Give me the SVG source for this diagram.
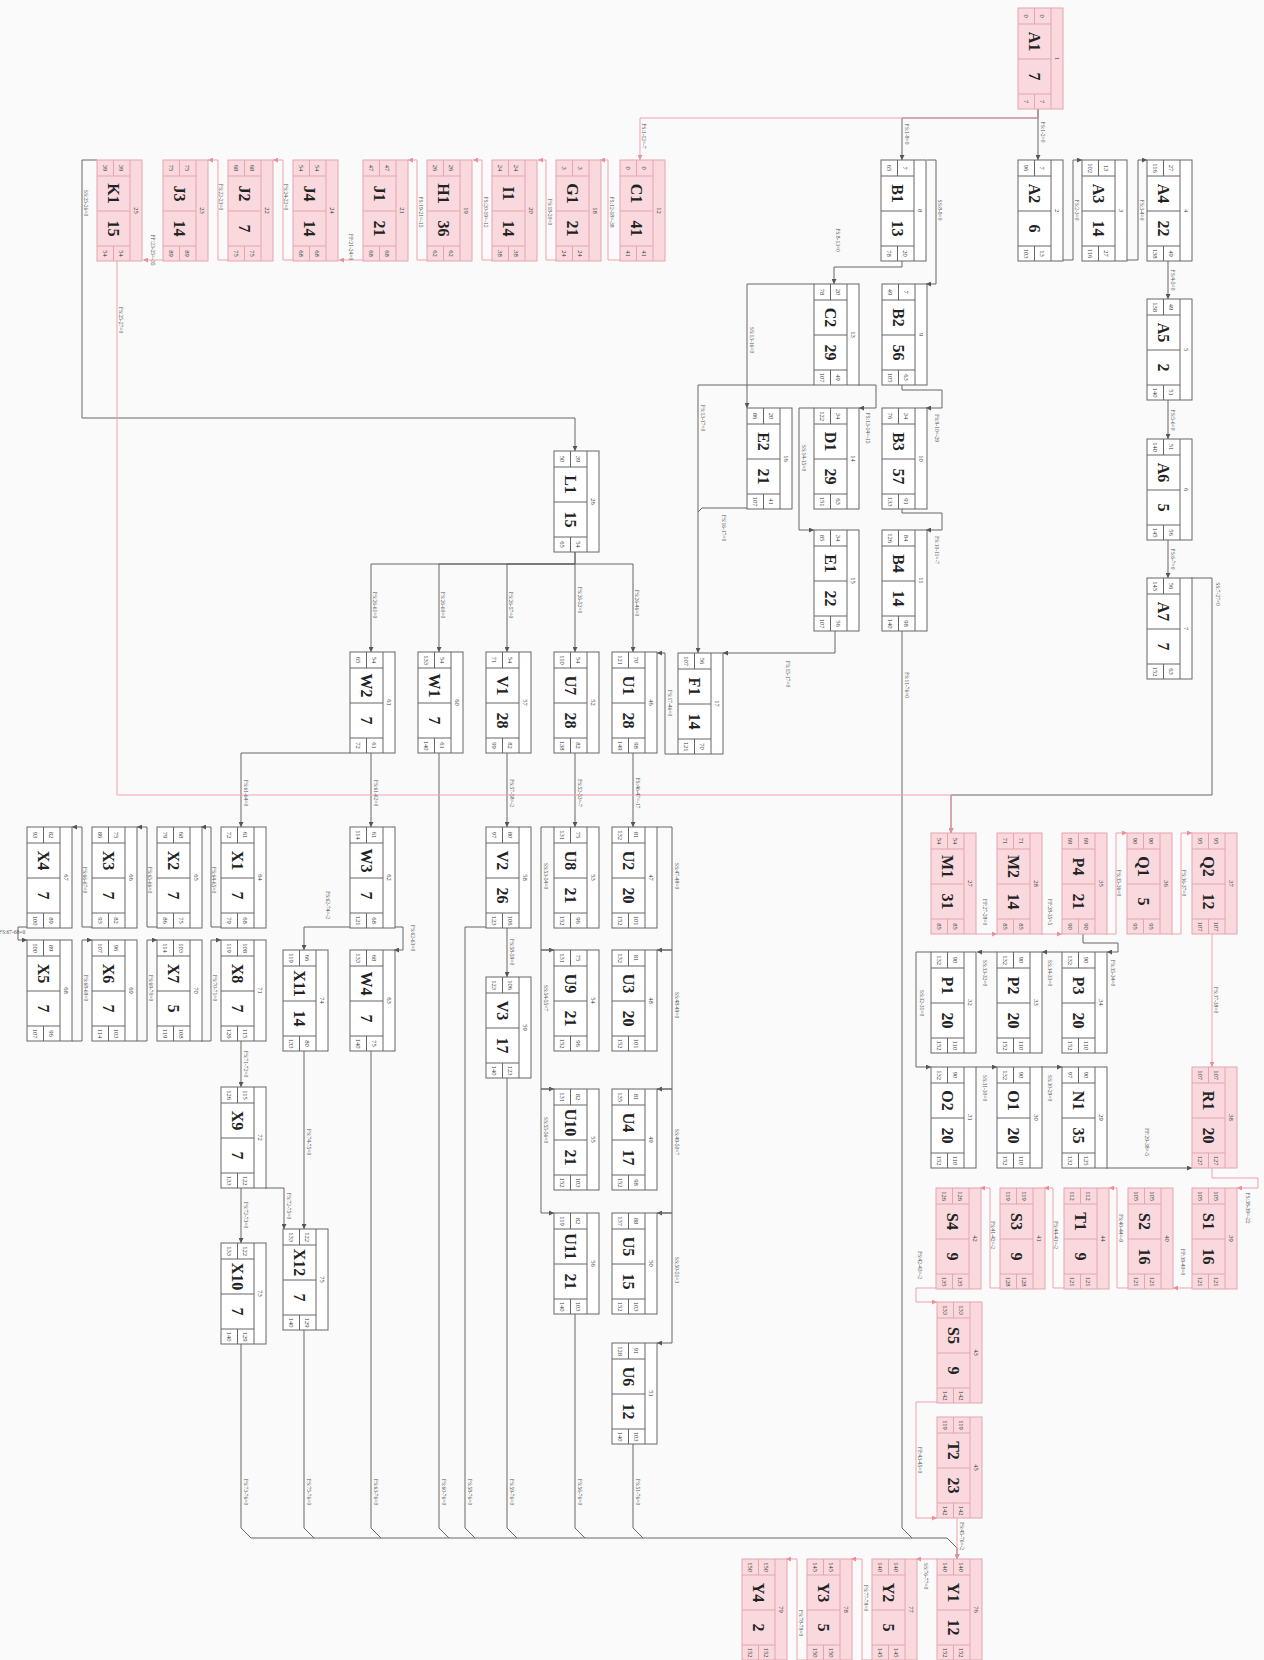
<svg xmlns="http://www.w3.org/2000/svg" xmlns:xlink="http://www.w3.org/1999/xlink" width="1264" height="1660" viewBox="0 0 1264 1660">
<style>
.b{font-family:"Liberation Serif",serif;font-weight:bold;font-size:16px;text-anchor:middle;dominant-baseline:central;fill:#222}
.s{font-family:"Liberation Serif",serif;font-size:6.5px;text-anchor:middle;dominant-baseline:central;fill:#333}
.i{font-family:"Liberation Serif",serif;font-size:6.5px;text-anchor:middle;dominant-baseline:central;fill:#333}
.l{font-family:"Liberation Serif",serif;font-size:5.5px;text-anchor:middle;dominant-baseline:central;fill:#555}
.cg path{fill:none;stroke:#666;stroke-width:1}
.cp path{fill:none;stroke:#f0a3ad;stroke-width:1}
</style>
<defs>
<marker id="ag" viewBox="0 0 6 6" refX="6" refY="3" markerWidth="5" markerHeight="5" orient="auto" markerUnits="userSpaceOnUse"><path d="M0,0L6,3L0,6z" fill="#555"/></marker>
<marker id="ap" viewBox="0 0 6 6" refX="6" refY="3" markerWidth="5" markerHeight="5" orient="auto" markerUnits="userSpaceOnUse"><path d="M0,0L6,3L0,6z" fill="#ec8f9b"/></marker>
<g id="fw"><rect x="0" y="0" width="101" height="45" fill="#ffffff" stroke="#666" stroke-width="1"/><path d="M0,12H101M16,12V45M51,12V45M86,12V45M0,28.5H16M86,28.5H101" fill="none" stroke="#666" stroke-width="1"/></g>
<g id="fp"><rect x="0" y="0" width="101" height="45" fill="#f9d9de" stroke="#e6a4ae" stroke-width="1"/><path d="M0,12H101M16,12V45M51,12V45M86,12V45M0,28.5H16M86,28.5H101" fill="none" stroke="#e6a4ae" stroke-width="1"/></g>
</defs>
<rect x="0" y="0" width="1264" height="1660" fill="#fafafa"/>

<g id="connectors">
<g class="cg">
<path d="M1038,109V160" marker-end="url(#ag)"/>
<path d="M1038,109V118H902V160" marker-end="url(#ag)"/>
<path d="M1063,260H1073V160H1082" marker-end="url(#ag)"/>
<path d="M1127,260H1138V160H1147" marker-end="url(#ag)"/>
<path d="M1168,261V299" marker-end="url(#ag)"/>
<path d="M1168,400V439" marker-end="url(#ag)"/>
<path d="M1168,540V578" marker-end="url(#ag)"/>
<path d="M1191,578H1212V795H951V833" marker-end="url(#ag)"/>
<path d="M927,160H936V284H926" marker-end="url(#ag)"/>
<path d="M902,261V267H834V284" marker-end="url(#ag)"/>
<path d="M902,385V390H942V408H926" marker-end="url(#ag)"/>
<path d="M902,509V513H942V530H926" marker-end="url(#ag)"/>
<path d="M902,631V1528L912,1538"/>
<path d="M858,385H876V408H859" marker-end="url(#ag)"/>
<path d="M814,284H747V408" marker-end="url(#ag)"/>
<path d="M814,385H698V653" marker-end="url(#ag)"/>
<path d="M747,508H702L698,512"/>
<path d="M814,408H799V530H814" marker-end="url(#ag)"/>
<path d="M835,631V653H723" marker-end="url(#ag)"/>
<path d="M678,754H665V653H657" marker-end="url(#ag)"/>
<path d="M97,160H82V418H575V451" marker-end="url(#ag)"/>
<path d="M575,552V564H371V652" marker-end="url(#ag)"/>
<path d="M575,564H439V652" marker-end="url(#ag)"/>
<path d="M575,564H507V652" marker-end="url(#ag)"/>
<path d="M575,552V652" marker-end="url(#ag)"/>
<path d="M575,564H633V652" marker-end="url(#ag)"/>
<path d="M371,753V827" marker-end="url(#ag)"/>
<path d="M350,753H241V827" marker-end="url(#ag)"/>
<path d="M439,753V1528L449,1538"/>
<path d="M507,753V827" marker-end="url(#ag)"/>
<path d="M575,753V827" marker-end="url(#ag)"/>
<path d="M633,753V827" marker-end="url(#ag)"/>
<path d="M394,927H403V950H394" marker-end="url(#ag)"/>
<path d="M350,927H304V950" marker-end="url(#ag)"/>
<path d="M221,927H211V827H201" marker-end="url(#ag)"/>
<path d="M157,927H147V827H137" marker-end="url(#ag)"/>
<path d="M92,927H82V827H72" marker-end="url(#ag)"/>
<path d="M27,927H18V940H27" marker-end="url(#ag)"/>
<path d="M72,1041H82V940H92" marker-end="url(#ag)"/>
<path d="M137,1041H147V940H157" marker-end="url(#ag)"/>
<path d="M201,1041H211V940H221" marker-end="url(#ag)"/>
<path d="M241,1041V1087" marker-end="url(#ag)"/>
<path d="M241,1188V1243" marker-end="url(#ag)"/>
<path d="M265,1188H284V1229" marker-end="url(#ag)"/>
<path d="M304,1051V1229" marker-end="url(#ag)"/>
<path d="M241,1344V1528L251,1538"/>
<path d="M304,1330V1528L314,1538"/>
<path d="M371,1051V1528L381,1538"/>
<path d="M507,927V977" marker-end="url(#ag)"/>
<path d="M486,927H465V1528L475,1538"/>
<path d="M507,1078V1528L517,1538"/>
<path d="M554,827H541V950H554" marker-end="url(#ag)"/>
<path d="M554,950H541V1089H554" marker-end="url(#ag)"/>
<path d="M554,1089H541V1213H554" marker-end="url(#ag)"/>
<path d="M575,1314V1528L585,1538"/>
<path d="M657,827H672V950H657" marker-end="url(#ag)"/>
<path d="M657,950H672V1089H657" marker-end="url(#ag)"/>
<path d="M657,1089H672V1213H657" marker-end="url(#ag)"/>
<path d="M657,1213H672V1343H657" marker-end="url(#ag)"/>
<path d="M633,1444V1528L643,1538"/>
<path d="M251,1538H947L957,1548V1559" marker-end="url(#ag)"/>
<path d="M1083,934V943H1118V952H1107" marker-end="url(#ag)"/>
<path d="M1062,952H1042" marker-end="url(#ag)"/>
<path d="M997,952H977" marker-end="url(#ag)"/>
<path d="M931,952H916V1067H931" marker-end="url(#ag)"/>
<path d="M976,1067H997" marker-end="url(#ag)"/>
<path d="M1041,1067H1062" marker-end="url(#ag)"/>
<path d="M1106,1168H1192" marker-end="url(#ag)"/>
</g>
<g class="cp">
<path d="M1038,109V118H640V160" marker-end="url(#ap)"/>
<path d="M620,260H608V160H600" marker-end="url(#ap)"/>
<path d="M556,260H546V160H538" marker-end="url(#ap)"/>
<path d="M492,260H482V160H473" marker-end="url(#ap)"/>
<path d="M427,260H417V160H408" marker-end="url(#ap)"/>
<path d="M363,260H339" marker-end="url(#ap)"/>
<path d="M293,260H283V160H273" marker-end="url(#ap)"/>
<path d="M228,260H218V160H208" marker-end="url(#ap)"/>
<path d="M163,260H143" marker-end="url(#ap)"/>
<path d="M117,260V795H951V833" marker-end="url(#ap)"/>
<path d="M976,934H997" marker-end="url(#ap)"/>
<path d="M1041,934H1062" marker-end="url(#ap)"/>
<path d="M1106,934H1116V833H1127" marker-end="url(#ap)"/>
<path d="M1171,934H1181V833H1192" marker-end="url(#ap)"/>
<path d="M1212,934V1067" marker-end="url(#ap)"/>
<path d="M1212,1168V1178H1258V1188H1237" marker-end="url(#ap)"/>
<path d="M1192,1288H1173" marker-end="url(#ap)"/>
<path d="M1128,1288H1117V1188H1109" marker-end="url(#ap)"/>
<path d="M1064,1288H1053V1188H1044" marker-end="url(#ap)"/>
<path d="M1000,1288H990V1188H980" marker-end="url(#ap)"/>
<path d="M936,1288H916V1302H937" marker-end="url(#ap)"/>
<path d="M937,1402H916V1518H937" marker-end="url(#ap)"/>
<path d="M957,1518V1559" marker-end="url(#ap)"/>
<path d="M937,1559H916" marker-end="url(#ap)"/>
<path d="M872,1660H862V1559H851" marker-end="url(#ap)"/>
<path d="M807,1660H797V1559H786" marker-end="url(#ap)"/>
</g>
<g id="labels">
<text class="l" transform="translate(1043,132) rotate(90)">FS:1-2=0</text>
<text class="l" transform="translate(907,134) rotate(90)">FS:1-8=0</text>
<text class="l" transform="translate(644,136) rotate(90)">FS:1-12=-7</text>
<text class="l" transform="translate(1077,210) rotate(90)">FS:2-3=0</text>
<text class="l" transform="translate(1142,210) rotate(90)">FS:3-4=0</text>
<text class="l" transform="translate(1173,280) rotate(90)">FS:4-5=0</text>
<text class="l" transform="translate(1173,420) rotate(90)">FS:5-6=0</text>
<text class="l" transform="translate(1173,559) rotate(90)">FS:6-7=0</text>
<text class="l" transform="translate(1218,594) rotate(90)">SS:7-27=0</text>
<text class="l" transform="translate(940,210) rotate(90)">SS:8-9=0</text>
<text class="l" transform="translate(838,240) rotate(90)">FS:8-13=0</text>
<text class="l" transform="translate(937,428) rotate(90)">FS:9-10=-29</text>
<text class="l" transform="translate(937,550) rotate(90)">FS:10-11=-7</text>
<text class="l" transform="translate(907,685) rotate(90)">FS:11-76=0</text>
<text class="l" transform="translate(612,212) rotate(90)">FS:12-18=-38</text>
<text class="l" transform="translate(868,428) rotate(90)">FS:13-14=-15</text>
<text class="l" transform="translate(752,340) rotate(90)">SS:13-16=0</text>
<text class="l" transform="translate(703,418) rotate(90)">FS:13-17=0</text>
<text class="l" transform="translate(724,528) rotate(90)">FS:16-17=0</text>
<text class="l" transform="translate(804,458) rotate(90)">SS:14-15=0</text>
<text class="l" transform="translate(788,674) rotate(90)">FS:15-17=0</text>
<text class="l" transform="translate(670,703) rotate(90)">FS:17-46=0</text>
<text class="l" transform="translate(550,212) rotate(90)">FS:18-20=0</text>
<text class="l" transform="translate(486,212) rotate(90)">FS:20-19=-12</text>
<text class="l" transform="translate(421,212) rotate(90)">FS:19-21=-15</text>
<text class="l" transform="translate(351,247) rotate(90)">FF:21-24=0</text>
<text class="l" transform="translate(286,197) rotate(90)">FS:24-22=0</text>
<text class="l" transform="translate(221,197) rotate(90)">FS:22-23=0</text>
<text class="l" transform="translate(153,250) rotate(90)">FF:23-25=-35</text>
<text class="l" transform="translate(86,203) rotate(90)">SS:25-26=0</text>
<text class="l" transform="translate(121,320) rotate(90)">FS:25-27=0</text>
<text class="l" transform="translate(375,605) rotate(90)">FS:26-61=0</text>
<text class="l" transform="translate(443,605) rotate(90)">FS:26-60=0</text>
<text class="l" transform="translate(511,605) rotate(90)">FS:26-57=0</text>
<text class="l" transform="translate(580,600) rotate(90)">FS:26-52=0</text>
<text class="l" transform="translate(637,603) rotate(90)">FS:26-46=0</text>
<text class="l" transform="translate(376,793) rotate(90)">FS:61-62=0</text>
<text class="l" transform="translate(246,793) rotate(90)">FS:61-64=0</text>
<text class="l" transform="translate(512,793) rotate(90)">FS:57-58=-2</text>
<text class="l" transform="translate(580,793) rotate(90)">FS:52-53=-7</text>
<text class="l" transform="translate(638,793) rotate(90)">FS:46-47=-17</text>
<text class="l" transform="translate(413,938) rotate(90)">FS:62-63=0</text>
<text class="l" transform="translate(328,905) rotate(90)">FS:62-74=-2</text>
<text class="l" transform="translate(214,880) rotate(90)">FS:64-65=0</text>
<text class="l" transform="translate(150,880) rotate(90)">FS:65-66=0</text>
<text class="l" transform="translate(85,880) rotate(90)">FS:66-67=0</text>
<text class="l" transform="translate(12,932)">FS:67-68=0</text>
<text class="l" transform="translate(86,988) rotate(90)">FS:68-69=0</text>
<text class="l" transform="translate(151,988) rotate(90)">FS:69-70=0</text>
<text class="l" transform="translate(215,988) rotate(90)">FS:70-71=0</text>
<text class="l" transform="translate(246,1064) rotate(90)">FS:71-72=0</text>
<text class="l" transform="translate(246,1215) rotate(90)">FS:72-73=0</text>
<text class="l" transform="translate(289,1206) rotate(90)">FS:72-75=0</text>
<text class="l" transform="translate(309,1142) rotate(90)">FS:74-75=0</text>
<text class="l" transform="translate(512,952) rotate(90)">FS:58-59=0</text>
<text class="l" transform="translate(546,876) rotate(90)">SS:53-54=0</text>
<text class="l" transform="translate(546,998) rotate(90)">SS:54-55=7</text>
<text class="l" transform="translate(546,1130) rotate(90)">SS:55-56=0</text>
<text class="l" transform="translate(677,876) rotate(90)">SS:47-48=0</text>
<text class="l" transform="translate(677,1005) rotate(90)">SS:48-49=0</text>
<text class="l" transform="translate(677,1142) rotate(90)">SS:49-50=7</text>
<text class="l" transform="translate(677,1270) rotate(90)">SS:50-51=3</text>
<text class="l" transform="translate(246,1492) rotate(90)">FS:73-76=0</text>
<text class="l" transform="translate(309,1492) rotate(90)">FS:75-76=0</text>
<text class="l" transform="translate(376,1492) rotate(90)">FS:63-76=0</text>
<text class="l" transform="translate(444,1492) rotate(90)">FS:60-76=0</text>
<text class="l" transform="translate(470,1492) rotate(90)">FS:58-76=0</text>
<text class="l" transform="translate(512,1492) rotate(90)">FS:59-76=0</text>
<text class="l" transform="translate(580,1492) rotate(90)">FS:56-76=0</text>
<text class="l" transform="translate(638,1492) rotate(90)">FS:51-76=0</text>
<text class="l" transform="translate(985,912) rotate(90)">FF:27-28=0</text>
<text class="l" transform="translate(1050,912) rotate(90)">FF:28-35=5</text>
<text class="l" transform="translate(1119,883) rotate(90)">FS:35-36=0</text>
<text class="l" transform="translate(1184,883) rotate(90)">FS:36-37=0</text>
<text class="l" transform="translate(1216,1000) rotate(90)">FS:37-38=0</text>
<text class="l" transform="translate(1113,973) rotate(90)">FS:35-34=0</text>
<text class="l" transform="translate(1050,973) rotate(90)">SS:34-33=0</text>
<text class="l" transform="translate(985,973) rotate(90)">SS:33-32=0</text>
<text class="l" transform="translate(922,1003) rotate(90)">SS:32-31=0</text>
<text class="l" transform="translate(985,1088) rotate(90)">SS:31-30=0</text>
<text class="l" transform="translate(1050,1088) rotate(90)">SS:30-29=0</text>
<text class="l" transform="translate(1147,1142) rotate(90)">FF:29-38=-5</text>
<text class="l" transform="translate(1248,1208) rotate(90)">FS:38-39=-22</text>
<text class="l" transform="translate(1183,1262) rotate(90)">FF:39-40=0</text>
<text class="l" transform="translate(1121,1228) rotate(90)">FS:40-44=-9</text>
<text class="l" transform="translate(1056,1235) rotate(90)">FS:44-41=-2</text>
<text class="l" transform="translate(993,1235) rotate(90)">FS:41-42=-2</text>
<text class="l" transform="translate(920,1265) rotate(90)">FS:42-43=-2</text>
<text class="l" transform="translate(920,1460) rotate(90)">FF:43-45=0</text>
<text class="l" transform="translate(962,1536) rotate(90)">FS:45-76=-2</text>
<text class="l" transform="translate(926,1576) rotate(90)">SS:76-77=0</text>
<text class="l" transform="translate(866,1598) rotate(90)">FS:77-78=0</text>
<text class="l" transform="translate(801,1623) rotate(90)">FS:78-79=0</text>
</g>
</g>

<g id="nodes">
<g id="A1" transform="matrix(0 1 -1 0 1063 8)"><use href="#fp"/><text class="i" x="50.5" y="6">1</text><text class="s" x="8" y="20.25">0</text><text class="s" x="8" y="36.75">0</text><text class="b" x="33.5" y="28.5">A1</text><text class="b" x="68.5" y="28.5">7</text><text class="s" x="93.5" y="20.25">7</text><text class="s" x="93.5" y="36.75">7</text></g>
<g id="A2" transform="matrix(0 1 -1 0 1063 160)"><use href="#fw"/><text class="i" x="50.5" y="6">2</text><text class="s" x="8" y="20.25">7</text><text class="s" x="8" y="36.75">96</text><text class="b" x="33.5" y="28.5">A2</text><text class="b" x="68.5" y="28.5">6</text><text class="s" x="93.5" y="20.25">13</text><text class="s" x="93.5" y="36.75">103</text></g>
<g id="A3" transform="matrix(0 1 -1 0 1127 160)"><use href="#fw"/><text class="i" x="50.5" y="6">3</text><text class="s" x="8" y="20.25">13</text><text class="s" x="8" y="36.75">102</text><text class="b" x="33.5" y="28.5">A3</text><text class="b" x="68.5" y="28.5">14</text><text class="s" x="93.5" y="20.25">27</text><text class="s" x="93.5" y="36.75">116</text></g>
<g id="A4" transform="matrix(0 1 -1 0 1192 160)"><use href="#fw"/><text class="i" x="50.5" y="6">4</text><text class="s" x="8" y="20.25">27</text><text class="s" x="8" y="36.75">116</text><text class="b" x="33.5" y="28.5">A4</text><text class="b" x="68.5" y="28.5">22</text><text class="s" x="93.5" y="20.25">49</text><text class="s" x="93.5" y="36.75">138</text></g>
<g id="A5" transform="matrix(0 1 -1 0 1192 299)"><use href="#fw"/><text class="i" x="50.5" y="6">5</text><text class="s" x="8" y="20.25">49</text><text class="s" x="8" y="36.75">138</text><text class="b" x="33.5" y="28.5">A5</text><text class="b" x="68.5" y="28.5">2</text><text class="s" x="93.5" y="20.25">51</text><text class="s" x="93.5" y="36.75">140</text></g>
<g id="A6" transform="matrix(0 1 -1 0 1192 439)"><use href="#fw"/><text class="i" x="50.5" y="6">6</text><text class="s" x="8" y="20.25">51</text><text class="s" x="8" y="36.75">140</text><text class="b" x="33.5" y="28.5">A6</text><text class="b" x="68.5" y="28.5">5</text><text class="s" x="93.5" y="20.25">56</text><text class="s" x="93.5" y="36.75">145</text></g>
<g id="A7" transform="matrix(0 1 -1 0 1192 578)"><use href="#fw"/><text class="i" x="50.5" y="6">7</text><text class="s" x="8" y="20.25">56</text><text class="s" x="8" y="36.75">145</text><text class="b" x="33.5" y="28.5">A7</text><text class="b" x="68.5" y="28.5">7</text><text class="s" x="93.5" y="20.25">63</text><text class="s" x="93.5" y="36.75">152</text></g>
<g id="B1" transform="matrix(0 1 -1 0 926 160)"><use href="#fw"/><text class="i" x="50.5" y="6">8</text><text class="s" x="8" y="20.25">7</text><text class="s" x="8" y="36.75">65</text><text class="b" x="33.5" y="28.5">B1</text><text class="b" x="68.5" y="28.5">13</text><text class="s" x="93.5" y="20.25">20</text><text class="s" x="93.5" y="36.75">78</text></g>
<g id="B2" transform="matrix(0 1 -1 0 927 284)"><use href="#fw"/><text class="i" x="50.5" y="6">9</text><text class="s" x="8" y="20.25">7</text><text class="s" x="8" y="36.75">49</text><text class="b" x="33.5" y="28.5">B2</text><text class="b" x="68.5" y="28.5">56</text><text class="s" x="93.5" y="20.25">63</text><text class="s" x="93.5" y="36.75">105</text></g>
<g id="B3" transform="matrix(0 1 -1 0 927 408)"><use href="#fw"/><text class="i" x="50.5" y="6">10</text><text class="s" x="8" y="20.25">34</text><text class="s" x="8" y="36.75">76</text><text class="b" x="33.5" y="28.5">B3</text><text class="b" x="68.5" y="28.5">57</text><text class="s" x="93.5" y="20.25">91</text><text class="s" x="93.5" y="36.75">133</text></g>
<g id="B4" transform="matrix(0 1 -1 0 927 530)"><use href="#fw"/><text class="i" x="50.5" y="6">11</text><text class="s" x="8" y="20.25">84</text><text class="s" x="8" y="36.75">126</text><text class="b" x="33.5" y="28.5">B4</text><text class="b" x="68.5" y="28.5">14</text><text class="s" x="93.5" y="20.25">98</text><text class="s" x="93.5" y="36.75">140</text></g>
<g id="C1" transform="matrix(0 1 -1 0 665 160)"><use href="#fp"/><text class="i" x="50.5" y="6">12</text><text class="s" x="8" y="20.25">0</text><text class="s" x="8" y="36.75">0</text><text class="b" x="33.5" y="28.5">C1</text><text class="b" x="68.5" y="28.5">41</text><text class="s" x="93.5" y="20.25">41</text><text class="s" x="93.5" y="36.75">41</text></g>
<g id="C2" transform="matrix(0 1 -1 0 859 284)"><use href="#fw"/><text class="i" x="50.5" y="6">13</text><text class="s" x="8" y="20.25">20</text><text class="s" x="8" y="36.75">78</text><text class="b" x="33.5" y="28.5">C2</text><text class="b" x="68.5" y="28.5">29</text><text class="s" x="93.5" y="20.25">49</text><text class="s" x="93.5" y="36.75">107</text></g>
<g id="D1" transform="matrix(0 1 -1 0 859 408)"><use href="#fw"/><text class="i" x="50.5" y="6">14</text><text class="s" x="8" y="20.25">34</text><text class="s" x="8" y="36.75">122</text><text class="b" x="33.5" y="28.5">D1</text><text class="b" x="68.5" y="28.5">29</text><text class="s" x="93.5" y="20.25">63</text><text class="s" x="93.5" y="36.75">151</text></g>
<g id="E1" transform="matrix(0 1 -1 0 859 530)"><use href="#fw"/><text class="i" x="50.5" y="6">15</text><text class="s" x="8" y="20.25">34</text><text class="s" x="8" y="36.75">85</text><text class="b" x="33.5" y="28.5">E1</text><text class="b" x="68.5" y="28.5">22</text><text class="s" x="93.5" y="20.25">56</text><text class="s" x="93.5" y="36.75">107</text></g>
<g id="E2" transform="matrix(0 1 -1 0 792 408)"><use href="#fw"/><text class="i" x="50.5" y="6">16</text><text class="s" x="8" y="20.25">20</text><text class="s" x="8" y="36.75">86</text><text class="b" x="33.5" y="28.5">E2</text><text class="b" x="68.5" y="28.5">21</text><text class="s" x="93.5" y="20.25">41</text><text class="s" x="93.5" y="36.75">107</text></g>
<g id="F1" transform="matrix(0 1 -1 0 723 653)"><use href="#fw"/><text class="i" x="50.5" y="6">17</text><text class="s" x="8" y="20.25">56</text><text class="s" x="8" y="36.75">107</text><text class="b" x="33.5" y="28.5">F1</text><text class="b" x="68.5" y="28.5">14</text><text class="s" x="93.5" y="20.25">70</text><text class="s" x="93.5" y="36.75">121</text></g>
<g id="G1" transform="matrix(0 1 -1 0 601 160)"><use href="#fp"/><text class="i" x="50.5" y="6">18</text><text class="s" x="8" y="20.25">3</text><text class="s" x="8" y="36.75">3</text><text class="b" x="33.5" y="28.5">G1</text><text class="b" x="68.5" y="28.5">21</text><text class="s" x="93.5" y="20.25">24</text><text class="s" x="93.5" y="36.75">24</text></g>
<g id="H1" transform="matrix(0 1 -1 0 472 160)"><use href="#fp"/><text class="i" x="50.5" y="6">19</text><text class="s" x="8" y="20.25">26</text><text class="s" x="8" y="36.75">26</text><text class="b" x="33.5" y="28.5">H1</text><text class="b" x="68.5" y="28.5">36</text><text class="s" x="93.5" y="20.25">62</text><text class="s" x="93.5" y="36.75">62</text></g>
<g id="I1" transform="matrix(0 1 -1 0 537 160)"><use href="#fp"/><text class="i" x="50.5" y="6">20</text><text class="s" x="8" y="20.25">24</text><text class="s" x="8" y="36.75">24</text><text class="b" x="33.5" y="28.5">I1</text><text class="b" x="68.5" y="28.5">14</text><text class="s" x="93.5" y="20.25">38</text><text class="s" x="93.5" y="36.75">38</text></g>
<g id="J1" transform="matrix(0 1 -1 0 408 160)"><use href="#fp"/><text class="i" x="50.5" y="6">21</text><text class="s" x="8" y="20.25">47</text><text class="s" x="8" y="36.75">47</text><text class="b" x="33.5" y="28.5">J1</text><text class="b" x="68.5" y="28.5">21</text><text class="s" x="93.5" y="20.25">68</text><text class="s" x="93.5" y="36.75">68</text></g>
<g id="J2" transform="matrix(0 1 -1 0 273 160)"><use href="#fp"/><text class="i" x="50.5" y="6">22</text><text class="s" x="8" y="20.25">68</text><text class="s" x="8" y="36.75">68</text><text class="b" x="33.5" y="28.5">J2</text><text class="b" x="68.5" y="28.5">7</text><text class="s" x="93.5" y="20.25">75</text><text class="s" x="93.5" y="36.75">75</text></g>
<g id="J3" transform="matrix(0 1 -1 0 208 160)"><use href="#fp"/><text class="i" x="50.5" y="6">23</text><text class="s" x="8" y="20.25">75</text><text class="s" x="8" y="36.75">75</text><text class="b" x="33.5" y="28.5">J3</text><text class="b" x="68.5" y="28.5">14</text><text class="s" x="93.5" y="20.25">89</text><text class="s" x="93.5" y="36.75">89</text></g>
<g id="J4" transform="matrix(0 1 -1 0 338 160)"><use href="#fp"/><text class="i" x="50.5" y="6">24</text><text class="s" x="8" y="20.25">54</text><text class="s" x="8" y="36.75">54</text><text class="b" x="33.5" y="28.5">J4</text><text class="b" x="68.5" y="28.5">14</text><text class="s" x="93.5" y="20.25">68</text><text class="s" x="93.5" y="36.75">68</text></g>
<g id="K1" transform="matrix(0 1 -1 0 142 160)"><use href="#fp"/><text class="i" x="50.5" y="6">25</text><text class="s" x="8" y="20.25">39</text><text class="s" x="8" y="36.75">39</text><text class="b" x="33.5" y="28.5">K1</text><text class="b" x="68.5" y="28.5">15</text><text class="s" x="93.5" y="20.25">54</text><text class="s" x="93.5" y="36.75">54</text></g>
<g id="L1" transform="matrix(0 1 -1 0 599 451)"><use href="#fw"/><text class="i" x="50.5" y="6">26</text><text class="s" x="8" y="20.25">39</text><text class="s" x="8" y="36.75">50</text><text class="b" x="33.5" y="28.5">L1</text><text class="b" x="68.5" y="28.5">15</text><text class="s" x="93.5" y="20.25">54</text><text class="s" x="93.5" y="36.75">65</text></g>
<g id="M1" transform="matrix(0 1 -1 0 976 833)"><use href="#fp"/><text class="i" x="50.5" y="6">27</text><text class="s" x="8" y="20.25">54</text><text class="s" x="8" y="36.75">54</text><text class="b" x="33.5" y="28.5">M1</text><text class="b" x="68.5" y="28.5">31</text><text class="s" x="93.5" y="20.25">85</text><text class="s" x="93.5" y="36.75">85</text></g>
<g id="M2" transform="matrix(0 1 -1 0 1042 833)"><use href="#fp"/><text class="i" x="50.5" y="6">28</text><text class="s" x="8" y="20.25">71</text><text class="s" x="8" y="36.75">71</text><text class="b" x="33.5" y="28.5">M2</text><text class="b" x="68.5" y="28.5">14</text><text class="s" x="93.5" y="20.25">85</text><text class="s" x="93.5" y="36.75">85</text></g>
<g id="N1" transform="matrix(0 1 -1 0 1107 1067)"><use href="#fw"/><text class="i" x="50.5" y="6">29</text><text class="s" x="8" y="20.25">90</text><text class="s" x="8" y="36.75">97</text><text class="b" x="33.5" y="28.5">N1</text><text class="b" x="68.5" y="28.5">35</text><text class="s" x="93.5" y="20.25">125</text><text class="s" x="93.5" y="36.75">132</text></g>
<g id="O1" transform="matrix(0 1 -1 0 1042 1067)"><use href="#fw"/><text class="i" x="50.5" y="6">30</text><text class="s" x="8" y="20.25">90</text><text class="s" x="8" y="36.75">132</text><text class="b" x="33.5" y="28.5">O1</text><text class="b" x="68.5" y="28.5">20</text><text class="s" x="93.5" y="20.25">110</text><text class="s" x="93.5" y="36.75">152</text></g>
<g id="O2" transform="matrix(0 1 -1 0 976 1067)"><use href="#fw"/><text class="i" x="50.5" y="6">31</text><text class="s" x="8" y="20.25">90</text><text class="s" x="8" y="36.75">132</text><text class="b" x="33.5" y="28.5">O2</text><text class="b" x="68.5" y="28.5">20</text><text class="s" x="93.5" y="20.25">110</text><text class="s" x="93.5" y="36.75">152</text></g>
<g id="P1" transform="matrix(0 1 -1 0 976 952)"><use href="#fw"/><text class="i" x="50.5" y="6">32</text><text class="s" x="8" y="20.25">90</text><text class="s" x="8" y="36.75">132</text><text class="b" x="33.5" y="28.5">P1</text><text class="b" x="68.5" y="28.5">20</text><text class="s" x="93.5" y="20.25">110</text><text class="s" x="93.5" y="36.75">152</text></g>
<g id="P2" transform="matrix(0 1 -1 0 1042 952)"><use href="#fw"/><text class="i" x="50.5" y="6">33</text><text class="s" x="8" y="20.25">90</text><text class="s" x="8" y="36.75">132</text><text class="b" x="33.5" y="28.5">P2</text><text class="b" x="68.5" y="28.5">20</text><text class="s" x="93.5" y="20.25">110</text><text class="s" x="93.5" y="36.75">152</text></g>
<g id="P3" transform="matrix(0 1 -1 0 1107 952)"><use href="#fw"/><text class="i" x="50.5" y="6">34</text><text class="s" x="8" y="20.25">90</text><text class="s" x="8" y="36.75">132</text><text class="b" x="33.5" y="28.5">P3</text><text class="b" x="68.5" y="28.5">20</text><text class="s" x="93.5" y="20.25">110</text><text class="s" x="93.5" y="36.75">152</text></g>
<g id="P4" transform="matrix(0 1 -1 0 1107 833)"><use href="#fp"/><text class="i" x="50.5" y="6">35</text><text class="s" x="8" y="20.25">69</text><text class="s" x="8" y="36.75">69</text><text class="b" x="33.5" y="28.5">P4</text><text class="b" x="68.5" y="28.5">21</text><text class="s" x="93.5" y="20.25">90</text><text class="s" x="93.5" y="36.75">90</text></g>
<g id="Q1" transform="matrix(0 1 -1 0 1172 833)"><use href="#fp"/><text class="i" x="50.5" y="6">36</text><text class="s" x="8" y="20.25">90</text><text class="s" x="8" y="36.75">90</text><text class="b" x="33.5" y="28.5">Q1</text><text class="b" x="68.5" y="28.5">5</text><text class="s" x="93.5" y="20.25">95</text><text class="s" x="93.5" y="36.75">95</text></g>
<g id="Q2" transform="matrix(0 1 -1 0 1237 833)"><use href="#fp"/><text class="i" x="50.5" y="6">37</text><text class="s" x="8" y="20.25">95</text><text class="s" x="8" y="36.75">95</text><text class="b" x="33.5" y="28.5">Q2</text><text class="b" x="68.5" y="28.5">12</text><text class="s" x="93.5" y="20.25">107</text><text class="s" x="93.5" y="36.75">107</text></g>
<g id="R1" transform="matrix(0 1 -1 0 1237 1067)"><use href="#fp"/><text class="i" x="50.5" y="6">38</text><text class="s" x="8" y="20.25">107</text><text class="s" x="8" y="36.75">107</text><text class="b" x="33.5" y="28.5">R1</text><text class="b" x="68.5" y="28.5">20</text><text class="s" x="93.5" y="20.25">127</text><text class="s" x="93.5" y="36.75">127</text></g>
<g id="S1" transform="matrix(0 1 -1 0 1237 1188)"><use href="#fp"/><text class="i" x="50.5" y="6">39</text><text class="s" x="8" y="20.25">105</text><text class="s" x="8" y="36.75">105</text><text class="b" x="33.5" y="28.5">S1</text><text class="b" x="68.5" y="28.5">16</text><text class="s" x="93.5" y="20.25">121</text><text class="s" x="93.5" y="36.75">121</text></g>
<g id="S2" transform="matrix(0 1 -1 0 1173 1188)"><use href="#fp"/><text class="i" x="50.5" y="6">40</text><text class="s" x="8" y="20.25">105</text><text class="s" x="8" y="36.75">105</text><text class="b" x="33.5" y="28.5">S2</text><text class="b" x="68.5" y="28.5">16</text><text class="s" x="93.5" y="20.25">121</text><text class="s" x="93.5" y="36.75">121</text></g>
<g id="S3" transform="matrix(0 1 -1 0 1045 1188)"><use href="#fp"/><text class="i" x="50.5" y="6">41</text><text class="s" x="8" y="20.25">119</text><text class="s" x="8" y="36.75">119</text><text class="b" x="33.5" y="28.5">S3</text><text class="b" x="68.5" y="28.5">9</text><text class="s" x="93.5" y="20.25">128</text><text class="s" x="93.5" y="36.75">128</text></g>
<g id="S4" transform="matrix(0 1 -1 0 981 1188)"><use href="#fp"/><text class="i" x="50.5" y="6">42</text><text class="s" x="8" y="20.25">126</text><text class="s" x="8" y="36.75">126</text><text class="b" x="33.5" y="28.5">S4</text><text class="b" x="68.5" y="28.5">9</text><text class="s" x="93.5" y="20.25">135</text><text class="s" x="93.5" y="36.75">135</text></g>
<g id="S5" transform="matrix(0 1 -1 0 982 1302)"><use href="#fp"/><text class="i" x="50.5" y="6">43</text><text class="s" x="8" y="20.25">133</text><text class="s" x="8" y="36.75">133</text><text class="b" x="33.5" y="28.5">S5</text><text class="b" x="68.5" y="28.5">9</text><text class="s" x="93.5" y="20.25">142</text><text class="s" x="93.5" y="36.75">142</text></g>
<g id="T1" transform="matrix(0 1 -1 0 1109 1188)"><use href="#fp"/><text class="i" x="50.5" y="6">44</text><text class="s" x="8" y="20.25">112</text><text class="s" x="8" y="36.75">112</text><text class="b" x="33.5" y="28.5">T1</text><text class="b" x="68.5" y="28.5">9</text><text class="s" x="93.5" y="20.25">121</text><text class="s" x="93.5" y="36.75">121</text></g>
<g id="T2" transform="matrix(0 1 -1 0 982 1417)"><use href="#fp"/><text class="i" x="50.5" y="6">45</text><text class="s" x="8" y="20.25">119</text><text class="s" x="8" y="36.75">119</text><text class="b" x="33.5" y="28.5">T2</text><text class="b" x="68.5" y="28.5">23</text><text class="s" x="93.5" y="20.25">142</text><text class="s" x="93.5" y="36.75">142</text></g>
<g id="U1" transform="matrix(0 1 -1 0 657 652)"><use href="#fw"/><text class="i" x="50.5" y="6">46</text><text class="s" x="8" y="20.25">70</text><text class="s" x="8" y="36.75">121</text><text class="b" x="33.5" y="28.5">U1</text><text class="b" x="68.5" y="28.5">28</text><text class="s" x="93.5" y="20.25">98</text><text class="s" x="93.5" y="36.75">149</text></g>
<g id="U2" transform="matrix(0 1 -1 0 657 827)"><use href="#fw"/><text class="i" x="50.5" y="6">47</text><text class="s" x="8" y="20.25">81</text><text class="s" x="8" y="36.75">132</text><text class="b" x="33.5" y="28.5">U2</text><text class="b" x="68.5" y="28.5">20</text><text class="s" x="93.5" y="20.25">101</text><text class="s" x="93.5" y="36.75">152</text></g>
<g id="U3" transform="matrix(0 1 -1 0 657 950)"><use href="#fw"/><text class="i" x="50.5" y="6">48</text><text class="s" x="8" y="20.25">81</text><text class="s" x="8" y="36.75">132</text><text class="b" x="33.5" y="28.5">U3</text><text class="b" x="68.5" y="28.5">20</text><text class="s" x="93.5" y="20.25">101</text><text class="s" x="93.5" y="36.75">152</text></g>
<g id="U4" transform="matrix(0 1 -1 0 657 1089)"><use href="#fw"/><text class="i" x="50.5" y="6">49</text><text class="s" x="8" y="20.25">81</text><text class="s" x="8" y="36.75">135</text><text class="b" x="33.5" y="28.5">U4</text><text class="b" x="68.5" y="28.5">17</text><text class="s" x="93.5" y="20.25">98</text><text class="s" x="93.5" y="36.75">152</text></g>
<g id="U5" transform="matrix(0 1 -1 0 657 1213)"><use href="#fw"/><text class="i" x="50.5" y="6">50</text><text class="s" x="8" y="20.25">88</text><text class="s" x="8" y="36.75">137</text><text class="b" x="33.5" y="28.5">U5</text><text class="b" x="68.5" y="28.5">15</text><text class="s" x="93.5" y="20.25">103</text><text class="s" x="93.5" y="36.75">152</text></g>
<g id="U6" transform="matrix(0 1 -1 0 657 1343)"><use href="#fw"/><text class="i" x="50.5" y="6">51</text><text class="s" x="8" y="20.25">91</text><text class="s" x="8" y="36.75">128</text><text class="b" x="33.5" y="28.5">U6</text><text class="b" x="68.5" y="28.5">12</text><text class="s" x="93.5" y="20.25">103</text><text class="s" x="93.5" y="36.75">140</text></g>
<g id="U7" transform="matrix(0 1 -1 0 599 652)"><use href="#fw"/><text class="i" x="50.5" y="6">52</text><text class="s" x="8" y="20.25">54</text><text class="s" x="8" y="36.75">110</text><text class="b" x="33.5" y="28.5">U7</text><text class="b" x="68.5" y="28.5">28</text><text class="s" x="93.5" y="20.25">82</text><text class="s" x="93.5" y="36.75">138</text></g>
<g id="U8" transform="matrix(0 1 -1 0 599 827)"><use href="#fw"/><text class="i" x="50.5" y="6">53</text><text class="s" x="8" y="20.25">75</text><text class="s" x="8" y="36.75">131</text><text class="b" x="33.5" y="28.5">U8</text><text class="b" x="68.5" y="28.5">21</text><text class="s" x="93.5" y="20.25">96</text><text class="s" x="93.5" y="36.75">152</text></g>
<g id="U9" transform="matrix(0 1 -1 0 599 950)"><use href="#fw"/><text class="i" x="50.5" y="6">54</text><text class="s" x="8" y="20.25">75</text><text class="s" x="8" y="36.75">131</text><text class="b" x="33.5" y="28.5">U9</text><text class="b" x="68.5" y="28.5">21</text><text class="s" x="93.5" y="20.25">96</text><text class="s" x="93.5" y="36.75">152</text></g>
<g id="U10" transform="matrix(0 1 -1 0 599 1089)"><use href="#fw"/><text class="i" x="50.5" y="6">55</text><text class="s" x="8" y="20.25">82</text><text class="s" x="8" y="36.75">131</text><text class="b" x="33.5" y="28.5">U10</text><text class="b" x="68.5" y="28.5">21</text><text class="s" x="93.5" y="20.25">103</text><text class="s" x="93.5" y="36.75">152</text></g>
<g id="U11" transform="matrix(0 1 -1 0 599 1213)"><use href="#fw"/><text class="i" x="50.5" y="6">56</text><text class="s" x="8" y="20.25">82</text><text class="s" x="8" y="36.75">119</text><text class="b" x="33.5" y="28.5">U11</text><text class="b" x="68.5" y="28.5">21</text><text class="s" x="93.5" y="20.25">103</text><text class="s" x="93.5" y="36.75">140</text></g>
<g id="V1" transform="matrix(0 1 -1 0 531 652)"><use href="#fw"/><text class="i" x="50.5" y="6">57</text><text class="s" x="8" y="20.25">54</text><text class="s" x="8" y="36.75">71</text><text class="b" x="33.5" y="28.5">V1</text><text class="b" x="68.5" y="28.5">28</text><text class="s" x="93.5" y="20.25">82</text><text class="s" x="93.5" y="36.75">99</text></g>
<g id="V2" transform="matrix(0 1 -1 0 531 827)"><use href="#fw"/><text class="i" x="50.5" y="6">58</text><text class="s" x="8" y="20.25">80</text><text class="s" x="8" y="36.75">97</text><text class="b" x="33.5" y="28.5">V2</text><text class="b" x="68.5" y="28.5">26</text><text class="s" x="93.5" y="20.25">106</text><text class="s" x="93.5" y="36.75">123</text></g>
<g id="V3" transform="matrix(0 1 -1 0 531 977)"><use href="#fw"/><text class="i" x="50.5" y="6">59</text><text class="s" x="8" y="20.25">106</text><text class="s" x="8" y="36.75">123</text><text class="b" x="33.5" y="28.5">V3</text><text class="b" x="68.5" y="28.5">17</text><text class="s" x="93.5" y="20.25">123</text><text class="s" x="93.5" y="36.75">140</text></g>
<g id="W1" transform="matrix(0 1 -1 0 463 652)"><use href="#fw"/><text class="i" x="50.5" y="6">60</text><text class="s" x="8" y="20.25">54</text><text class="s" x="8" y="36.75">133</text><text class="b" x="33.5" y="28.5">W1</text><text class="b" x="68.5" y="28.5">7</text><text class="s" x="93.5" y="20.25">61</text><text class="s" x="93.5" y="36.75">140</text></g>
<g id="W2" transform="matrix(0 1 -1 0 395 652)"><use href="#fw"/><text class="i" x="50.5" y="6">61</text><text class="s" x="8" y="20.25">54</text><text class="s" x="8" y="36.75">65</text><text class="b" x="33.5" y="28.5">W2</text><text class="b" x="68.5" y="28.5">7</text><text class="s" x="93.5" y="20.25">61</text><text class="s" x="93.5" y="36.75">72</text></g>
<g id="W3" transform="matrix(0 1 -1 0 395 827)"><use href="#fw"/><text class="i" x="50.5" y="6">62</text><text class="s" x="8" y="20.25">61</text><text class="s" x="8" y="36.75">114</text><text class="b" x="33.5" y="28.5">W3</text><text class="b" x="68.5" y="28.5">7</text><text class="s" x="93.5" y="20.25">68</text><text class="s" x="93.5" y="36.75">121</text></g>
<g id="W4" transform="matrix(0 1 -1 0 395 950)"><use href="#fw"/><text class="i" x="50.5" y="6">63</text><text class="s" x="8" y="20.25">68</text><text class="s" x="8" y="36.75">133</text><text class="b" x="33.5" y="28.5">W4</text><text class="b" x="68.5" y="28.5">7</text><text class="s" x="93.5" y="20.25">75</text><text class="s" x="93.5" y="36.75">140</text></g>
<g id="X1" transform="matrix(0 1 -1 0 266 827)"><use href="#fw"/><text class="i" x="50.5" y="6">64</text><text class="s" x="8" y="20.25">61</text><text class="s" x="8" y="36.75">72</text><text class="b" x="33.5" y="28.5">X1</text><text class="b" x="68.5" y="28.5">7</text><text class="s" x="93.5" y="20.25">68</text><text class="s" x="93.5" y="36.75">79</text></g>
<g id="X2" transform="matrix(0 1 -1 0 202 827)"><use href="#fw"/><text class="i" x="50.5" y="6">65</text><text class="s" x="8" y="20.25">68</text><text class="s" x="8" y="36.75">79</text><text class="b" x="33.5" y="28.5">X2</text><text class="b" x="68.5" y="28.5">7</text><text class="s" x="93.5" y="20.25">75</text><text class="s" x="93.5" y="36.75">86</text></g>
<g id="X3" transform="matrix(0 1 -1 0 137 827)"><use href="#fw"/><text class="i" x="50.5" y="6">66</text><text class="s" x="8" y="20.25">75</text><text class="s" x="8" y="36.75">86</text><text class="b" x="33.5" y="28.5">X3</text><text class="b" x="68.5" y="28.5">7</text><text class="s" x="93.5" y="20.25">82</text><text class="s" x="93.5" y="36.75">93</text></g>
<g id="X4" transform="matrix(0 1 -1 0 72 827)"><use href="#fw"/><text class="i" x="50.5" y="6">67</text><text class="s" x="8" y="20.25">82</text><text class="s" x="8" y="36.75">93</text><text class="b" x="33.5" y="28.5">X4</text><text class="b" x="68.5" y="28.5">7</text><text class="s" x="93.5" y="20.25">89</text><text class="s" x="93.5" y="36.75">100</text></g>
<g id="X5" transform="matrix(0 1 -1 0 72 940)"><use href="#fw"/><text class="i" x="50.5" y="6">68</text><text class="s" x="8" y="20.25">89</text><text class="s" x="8" y="36.75">100</text><text class="b" x="33.5" y="28.5">X5</text><text class="b" x="68.5" y="28.5">7</text><text class="s" x="93.5" y="20.25">96</text><text class="s" x="93.5" y="36.75">107</text></g>
<g id="X6" transform="matrix(0 1 -1 0 137 940)"><use href="#fw"/><text class="i" x="50.5" y="6">69</text><text class="s" x="8" y="20.25">96</text><text class="s" x="8" y="36.75">107</text><text class="b" x="33.5" y="28.5">X6</text><text class="b" x="68.5" y="28.5">7</text><text class="s" x="93.5" y="20.25">103</text><text class="s" x="93.5" y="36.75">114</text></g>
<g id="X7" transform="matrix(0 1 -1 0 202 940)"><use href="#fw"/><text class="i" x="50.5" y="6">70</text><text class="s" x="8" y="20.25">103</text><text class="s" x="8" y="36.75">114</text><text class="b" x="33.5" y="28.5">X7</text><text class="b" x="68.5" y="28.5">5</text><text class="s" x="93.5" y="20.25">108</text><text class="s" x="93.5" y="36.75">119</text></g>
<g id="X8" transform="matrix(0 1 -1 0 266 940)"><use href="#fw"/><text class="i" x="50.5" y="6">71</text><text class="s" x="8" y="20.25">108</text><text class="s" x="8" y="36.75">119</text><text class="b" x="33.5" y="28.5">X8</text><text class="b" x="68.5" y="28.5">7</text><text class="s" x="93.5" y="20.25">115</text><text class="s" x="93.5" y="36.75">126</text></g>
<g id="X9" transform="matrix(0 1 -1 0 266 1087)"><use href="#fw"/><text class="i" x="50.5" y="6">72</text><text class="s" x="8" y="20.25">115</text><text class="s" x="8" y="36.75">126</text><text class="b" x="33.5" y="28.5">X9</text><text class="b" x="68.5" y="28.5">7</text><text class="s" x="93.5" y="20.25">122</text><text class="s" x="93.5" y="36.75">133</text></g>
<g id="X10" transform="matrix(0 1 -1 0 266 1243)"><use href="#fw"/><text class="i" x="50.5" y="6">73</text><text class="s" x="8" y="20.25">122</text><text class="s" x="8" y="36.75">133</text><text class="b" x="33.5" y="28.5">X10</text><text class="b" x="68.5" y="28.5">7</text><text class="s" x="93.5" y="20.25">129</text><text class="s" x="93.5" y="36.75">140</text></g>
<g id="X11" transform="matrix(0 1 -1 0 328 950)"><use href="#fw"/><text class="i" x="50.5" y="6">74</text><text class="s" x="8" y="20.25">66</text><text class="s" x="8" y="36.75">119</text><text class="b" x="33.5" y="28.5">X11</text><text class="b" x="68.5" y="28.5">14</text><text class="s" x="93.5" y="20.25">80</text><text class="s" x="93.5" y="36.75">133</text></g>
<g id="X12" transform="matrix(0 1 -1 0 328 1229)"><use href="#fw"/><text class="i" x="50.5" y="6">75</text><text class="s" x="8" y="20.25">122</text><text class="s" x="8" y="36.75">133</text><text class="b" x="33.5" y="28.5">X12</text><text class="b" x="68.5" y="28.5">7</text><text class="s" x="93.5" y="20.25">129</text><text class="s" x="93.5" y="36.75">140</text></g>
<g id="Y1" transform="matrix(0 1 -1 0 982 1559)"><use href="#fp"/><text class="i" x="50.5" y="6">76</text><text class="s" x="8" y="20.25">140</text><text class="s" x="8" y="36.75">140</text><text class="b" x="33.5" y="28.5">Y1</text><text class="b" x="68.5" y="28.5">12</text><text class="s" x="93.5" y="20.25">152</text><text class="s" x="93.5" y="36.75">152</text></g>
<g id="Y2" transform="matrix(0 1 -1 0 917 1559)"><use href="#fp"/><text class="i" x="50.5" y="6">77</text><text class="s" x="8" y="20.25">140</text><text class="s" x="8" y="36.75">140</text><text class="b" x="33.5" y="28.5">Y2</text><text class="b" x="68.5" y="28.5">5</text><text class="s" x="93.5" y="20.25">145</text><text class="s" x="93.5" y="36.75">145</text></g>
<g id="Y3" transform="matrix(0 1 -1 0 852 1559)"><use href="#fp"/><text class="i" x="50.5" y="6">78</text><text class="s" x="8" y="20.25">145</text><text class="s" x="8" y="36.75">145</text><text class="b" x="33.5" y="28.5">Y3</text><text class="b" x="68.5" y="28.5">5</text><text class="s" x="93.5" y="20.25">150</text><text class="s" x="93.5" y="36.75">150</text></g>
<g id="Y4" transform="matrix(0 1 -1 0 787 1559)"><use href="#fp"/><text class="i" x="50.5" y="6">79</text><text class="s" x="8" y="20.25">150</text><text class="s" x="8" y="36.75">150</text><text class="b" x="33.5" y="28.5">Y4</text><text class="b" x="68.5" y="28.5">2</text><text class="s" x="93.5" y="20.25">152</text><text class="s" x="93.5" y="36.75">152</text></g>
</g>
</svg>
